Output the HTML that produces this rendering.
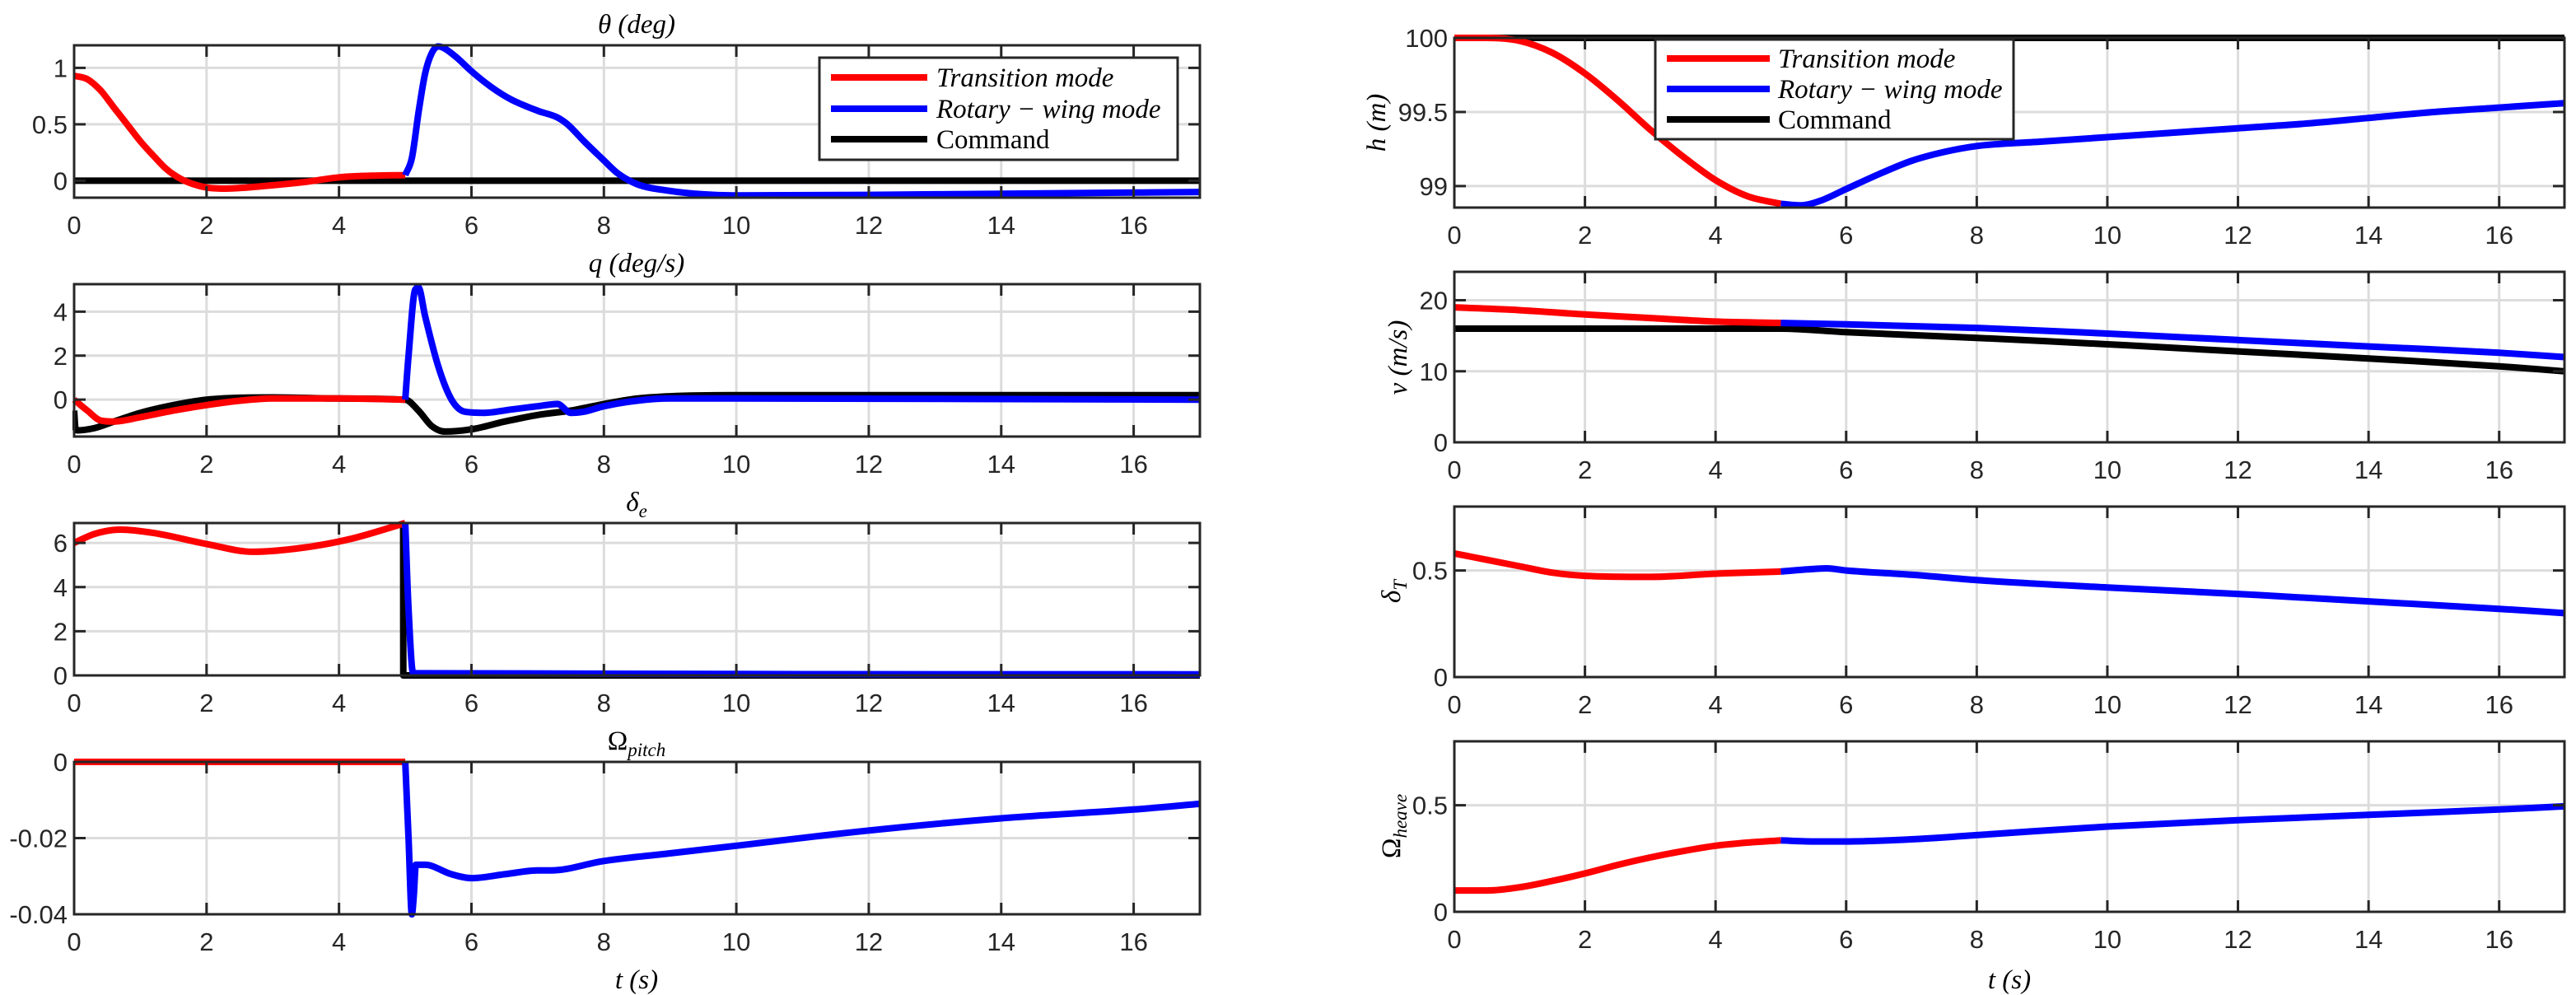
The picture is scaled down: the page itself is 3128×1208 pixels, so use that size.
<!DOCTYPE html>
<html><head><meta charset="utf-8">
<style>
html,body{margin:0;padding:0;background:#fff;}
svg{display:block;}
.tick{font-family:"Liberation Sans",sans-serif;font-size:31px;fill:#262626;}
.ser{font-family:"Liberation Serif",serif;font-size:33px;fill:#000;}
</style></head>
<body>
<svg id="fig" width="3128" height="1208" viewBox="0 0 3128 1208" xmlns="http://www.w3.org/2000/svg"></svg>
<script>
// ---- data ----
const thetaRedT=[0,0.2,0.4,0.6,0.8,1.0,1.2,1.4,1.6,1.8,2.0,2.3,2.6,3,3.5,4,4.5,5];
const thetaRedV=[0.93,0.9,0.8,0.65,0.5,0.35,0.22,0.1,0.02,-0.03,-0.06,-0.07,-0.06,-0.04,-0.01,0.03,0.045,0.05];
const thetaBlueT=[5,5.1,5.2,5.3,5.4,5.5,5.6,5.8,6.0,6.3,6.6,7.0,7.3,7.45,7.7,8.0,8.2,8.5,9,9.5,10,12,14,16,17];
const thetaBlueV=[0.05,0.2,0.6,0.95,1.13,1.19,1.17,1.08,0.97,0.83,0.72,0.62,0.56,0.5,0.35,0.18,0.07,-0.03,-0.09,-0.12,-0.13,-0.125,-0.115,-0.105,-0.1];
const thetaCmdT=[0,17];
const thetaCmdV=[0,0];

const qRedT=[0,0.2,0.4,0.6,1,1.5,2,2.5,3,4,5];
const qRedV=[0,-0.5,-0.95,-1.0,-0.8,-0.5,-0.25,-0.05,0.05,0.05,0];
const qCmdT=[0,0.02,0.05,0.3,0.6,1,1.5,2,3,4,5,5.2,5.4,5.6,6,6.5,7,7.5,8,8.5,9,10,17];
const qCmdV=[-0.5,-1.3,-1.4,-1.3,-1.0,-0.6,-0.25,0.0,0.1,0.05,0,-0.5,-1.2,-1.45,-1.35,-1.0,-0.7,-0.5,-0.2,0.05,0.15,0.2,0.2];
const qBlueT=[5,5.05,5.15,5.2,5.3,5.5,5.7,5.9,6.2,6.6,7,7.3,7.5,7.7,8,8.5,9,10,17];
const qBlueV=[0,2,5.0,5.1,3.8,1.5,0.0,-0.55,-0.6,-0.45,-0.3,-0.2,-0.6,-0.55,-0.3,-0.05,0.05,0.05,0.0];

const deRedT=[0,0.3,0.7,1.2,2,2.7,3.5,4.2,5];
const deRedV=[6.0,6.4,6.6,6.45,5.95,5.6,5.8,6.2,6.9];
const deCmdT=[4.97,4.971,17];
const deCmdV=[6.9,0,0];
const deBlueT=[5,5.05,5.12,17];
const deBlueV=[6.9,3,0.1,0.05];

const opRedT=[0,5];
const opRedV=[0,0];
const opBlueT=[5,5.05,5.1,5.13,5.16,5.3,5.7,6,6.5,7,7.2,8,9,10,12,14,16,17];
const opBlueV=[0,-0.02,-0.04,-0.035,-0.027,-0.027,-0.0295,-0.0305,-0.0295,-0.0285,-0.0285,-0.026,-0.024,-0.022,-0.018,-0.0148,-0.0125,-0.011];

const hRedT=[0,0.5,1,1.5,2,2.5,3,3.5,4,4.5,5];
const hRedV=[100,100,99.98,99.9,99.76,99.58,99.38,99.2,99.04,98.93,98.88];
const hBlueT=[5,5.3,5.6,6,6.5,7,7.5,8,9,10,11,12,13,14,15,16,17];
const hBlueV=[98.88,98.87,98.9,98.98,99.08,99.17,99.23,99.27,99.3,99.33,99.36,99.39,99.42,99.46,99.5,99.53,99.56];
const hCmdT=[0,17];
const hCmdV=[100,100];

const vRedT=[0,1,2,3,4,5];
const vRedV=[19,18.6,18,17.5,17,16.8];
const vBlueT=[5,6,8,10,12,14,16,17];
const vBlueV=[16.8,16.6,16.1,15.3,14.4,13.5,12.6,12];
const vCmdT=[0,5,6,8,10,12,14,16,17];
const vCmdV=[16,16,15.5,14.7,13.8,12.8,11.8,10.7,10];

const dtRedT=[0,0.5,1,1.5,2,3,4,5];
const dtRedV=[0.58,0.55,0.52,0.49,0.475,0.47,0.485,0.495];
const dtBlueT=[5,5.4,5.7,6,7,8,10,12,14,16,17];
const dtBlueV=[0.495,0.505,0.51,0.5,0.48,0.455,0.42,0.39,0.355,0.32,0.3];

const ohRedT=[0,0.5,1,1.5,2,2.5,3,3.5,4,4.5,5];
const ohRedV=[0.1,0.1,0.115,0.145,0.18,0.22,0.255,0.285,0.31,0.325,0.335];
const ohBlueT=[5,5.5,6,7,8,10,12,14,16,17];
const ohBlueV=[0.335,0.33,0.33,0.34,0.36,0.4,0.43,0.455,0.48,0.495];

const xTicks=[0,2,4,6,8,10,12,14,16];

// ---- drawing ----
const NS="http://www.w3.org/2000/svg";
const svg=document.getElementById('fig');
function mk(tag,attrs,parent){const e=document.createElementNS(NS,tag);for(const k in attrs)e.setAttribute(k,attrs[k]);(parent||svg).appendChild(e);return e;}
// monotone cubic path through pixel points
function monoPath(xs,ys){
  const n=xs.length;
  if(n<3){return xs.map((x,i)=>(i?'L':'M')+x.toFixed(1)+','+ys[i].toFixed(1)).join('');}
  const d=[],m=new Array(n);
  for(let i=0;i<n-1;i++){const dx=xs[i+1]-xs[i];d.push(dx===0?0:(ys[i+1]-ys[i])/dx);}
  m[0]=d[0];m[n-1]=d[n-2];
  for(let i=1;i<n-1;i++){ if(d[i-1]*d[i]<=0) m[i]=0; else m[i]=(d[i-1]+d[i])/2; }
  for(let i=0;i<n-1;i++){
    if(d[i]===0){m[i]=0;m[i+1]=0;continue;}
    const a=m[i]/d[i],b=m[i+1]/d[i],s=a*a+b*b;
    if(s>9){const t=3/Math.sqrt(s);m[i]=t*a*d[i];m[i+1]=t*b*d[i];}
  }
  let p='M'+xs[0].toFixed(1)+','+ys[0].toFixed(1);
  for(let i=0;i<n-1;i++){
    const h=(xs[i+1]-xs[i])/3;
    if(h<0.5){p+='L'+xs[i+1].toFixed(1)+','+ys[i+1].toFixed(1);continue;}
    p+='C'+(xs[i]+h).toFixed(1)+','+(ys[i]+m[i]*h).toFixed(1)+' '+(xs[i+1]-h).toFixed(1)+','+(ys[i+1]-m[i+1]*h).toFixed(1)+' '+xs[i+1].toFixed(1)+','+ys[i+1].toFixed(1);
  }
  return p;
}
let clipN=0;
function panel(opt){
  const {name,x0,x1,y0,y1,ymin,ymax,yticks,ylabels,series}=opt;
  const g=mk('g',{});
  
  
  const sx=t=>x0+(t-0)/(17-0)*(x1-x0);
  const sy=v=>y1-(v-ymin)/(ymax-ymin)*(y1-y0);
  xTicks.forEach(t=>{ if(t>0){const l=mk('line',{x1:sx(t),x2:sx(t),y1:y0,y2:y1,stroke:'#dcdcdc','stroke-width':3},g);
    }});
  yticks.forEach(v=>{const l=mk('line',{x1:x0,x2:x1,y1:sy(v),y2:sy(v),stroke:'#dcdcdc','stroke-width':3},g);
    });
  const cid='c'+(clipN++);
  const cp=mk('clipPath',{id:cid},g);
  mk('rect',{x:x0-2,y:y0-5,width:x1-x0+4,height:y1-y0+10},cp);
  series.forEach(s=>{
    const d=monoPath(s.t.map(sx),s.v.map(sy));
    const p=mk('path',{d:d,fill:'none',stroke:s.c,'stroke-width':s.w||8,'stroke-linejoin':'round','clip-path':'url(#'+cid+')'},g);
    
    
  });
  const b=mk('rect',{x:x0,y:y0,width:x1-x0,height:y1-y0,fill:'none',stroke:'#262626','stroke-width':3},g);
  
  xTicks.forEach(t=>{
    if(t>0){mk('line',{x1:sx(t),x2:sx(t),y1:y1,y2:y1-14,stroke:'#262626','stroke-width':3},g);
    mk('line',{x1:sx(t),x2:sx(t),y1:y0,y2:y0+14,stroke:'#262626','stroke-width':3},g);}
    const tx=mk('text',{x:sx(t),y:y1+44,'text-anchor':'middle',class:'tick'},g);
    tx.textContent=String(t);
    
  });
  yticks.forEach((v,i)=>{
    mk('line',{x1:x0,x2:x0+14,y1:sy(v),y2:sy(v),stroke:'#262626','stroke-width':3},g);
    mk('line',{x1:x1,x2:x1-14,y1:sy(v),y2:sy(v),stroke:'#262626','stroke-width':3},g);
    const tx=mk('text',{x:x0-8,y:sy(v)+11,'text-anchor':'end',class:'tick'},g);
    tx.textContent=ylabels[i];
    
  });
}
const LX0=90,LX1=1457,RX0=1766,RX1=3114;
const R='#ff0000',B='#0000ff',K='#000000';
panel({name:'theta',x0:LX0,x1:LX1,y0:55,y1:240,ymin:-0.15,ymax:1.2,yticks:[0,0.5,1],ylabels:['0','0.5','1'],
  series:[{t:thetaCmdT,v:thetaCmdV,c:K,n:'theta-command-line'},{t:thetaRedT,v:thetaRedV,c:R,n:'theta-transition-line'},{t:thetaBlueT,v:thetaBlueV,c:B,n:'theta-rotary-line'}]});
panel({name:'q',x0:LX0,x1:LX1,y0:345,y1:530,ymin:-1.68,ymax:5.25,yticks:[0,2,4],ylabels:['0','2','4'],
  series:[{t:qCmdT,v:qCmdV,c:K,n:'q-command-line'},{t:qRedT,v:qRedV,c:R,n:'q-transition-line'},{t:qBlueT,v:qBlueV,c:B,n:'q-rotary-line'}]});
panel({name:'delta-e',x0:LX0,x1:LX1,y0:635,y1:820,ymin:0,ymax:6.9,yticks:[0,2,4,6],ylabels:['0','2','4','6'],
  series:[{t:deCmdT,v:deCmdV,c:K,n:'delta-e-command-line'},{t:deRedT,v:deRedV,c:R,n:'delta-e-transition-line'},{t:deBlueT,v:deBlueV,c:B,n:'delta-e-rotary-line'}]});
panel({name:'omega-pitch',x0:LX0,x1:LX1,y0:925,y1:1110,ymin:-0.04,ymax:0,yticks:[-0.04,-0.02,0],ylabels:['-0.04','-0.02','0'],
  series:[{t:opRedT,v:opRedV,c:R,n:'omega-pitch-transition-line'},{t:opBlueT,v:opBlueV,c:B,n:'omega-pitch-rotary-line'}]});
panel({name:'h',x0:RX0,x1:RX1,y0:46,y1:252,ymin:98.855,ymax:100,yticks:[99,99.5,100],ylabels:['99','99.5','100'],
  series:[{t:hCmdT,v:hCmdV,c:K,n:'h-command-line'},{t:hRedT,v:hRedV,c:R,n:'h-transition-line'},{t:hBlueT,v:hBlueV,c:B,n:'h-rotary-line'}]});
panel({name:'v',x0:RX0,x1:RX1,y0:330,y1:537,ymin:0,ymax:24,yticks:[0,10,20],ylabels:['0','10','20'],
  series:[{t:vCmdT,v:vCmdV,c:K,n:'v-command-line'},{t:vRedT,v:vRedV,c:R,n:'v-transition-line'},{t:vBlueT,v:vBlueV,c:B,n:'v-rotary-line'}]});
panel({name:'delta-t',x0:RX0,x1:RX1,y0:615,y1:822,ymin:0,ymax:0.8,yticks:[0,0.5],ylabels:['0','0.5'],
  series:[{t:dtRedT,v:dtRedV,c:R,n:'delta-t-transition-line'},{t:dtBlueT,v:dtBlueV,c:B,n:'delta-t-rotary-line'}]});
panel({name:'omega-heave',x0:RX0,x1:RX1,y0:900,y1:1107,ymin:0,ymax:0.8,yticks:[0,0.5],ylabels:['0','0.5'],
  series:[{t:ohRedT,v:ohRedV,c:R,n:'omega-heave-transition-line'},{t:ohBlueT,v:ohBlueV,c:B,n:'omega-heave-rotary-line'}]});
</script>
<svg style="position:absolute;left:0;top:0" width="3128" height="1208" xmlns="http://www.w3.org/2000/svg">
 <g class="ser" font-style="italic">
  <text x="773" y="40" text-anchor="middle" class="ser" font-style="italic">θ (deg)</text>
  <text x="773" y="330" text-anchor="middle" class="ser" font-style="italic">q (deg/s)</text>
  <text x="773" y="620" text-anchor="middle" class="ser" font-style="italic">δ<tspan font-size="23" dy="8">e</tspan></text>
  <text x="773" y="910" text-anchor="middle" class="ser"><tspan font-style="normal">Ω</tspan><tspan font-size="23" dy="8">pitch</tspan></text>
  <text x="773" y="1200" text-anchor="middle" class="ser" font-style="italic">t (s)</text>
  <text x="2440" y="1200" text-anchor="middle" class="ser" font-style="italic">t (s)</text>
  <text transform="translate(1682,149) rotate(-90)" text-anchor="middle" class="ser" font-style="italic">h (m)</text>
  <text transform="translate(1708,434) rotate(-90)" text-anchor="middle" class="ser" font-style="italic">v (m/s)</text>
  <text transform="translate(1700,718) rotate(-90)" text-anchor="middle" class="ser" font-style="italic">δ<tspan font-size="23" dy="8">T</tspan></text>
  <text transform="translate(1700,1003) rotate(-90)" text-anchor="middle" class="ser"><tspan font-style="normal">Ω</tspan><tspan font-size="23" dy="8" font-style="italic">heave</tspan></text>
 </g>
 <g>
  <rect x="995" y="70" width="435" height="124" fill="#fff" stroke="#262626" stroke-width="3"/>
  <line x1="1009" x2="1126" y1="94" y2="94" stroke="#ff0000" stroke-width="8"/>
  <line x1="1009" x2="1126" y1="132" y2="132" stroke="#0000ff" stroke-width="8"/>
  <line x1="1009" x2="1126" y1="169" y2="169" stroke="#000" stroke-width="8"/>
  <text x="1137" y="105" class="ser" font-style="italic" font-size="31">Transition mode</text>
  <text x="1137" y="143" class="ser" font-style="italic" font-size="31">Rotary − wing mode</text>
  <text x="1137" y="180" class="ser" font-size="31">Command</text>
 </g>
 <g>
  <rect x="2010" y="48" width="435" height="121" fill="#fff" stroke="#262626" stroke-width="3"/>
  <line x1="2024" x2="2149" y1="71" y2="71" stroke="#ff0000" stroke-width="8"/>
  <line x1="2024" x2="2149" y1="108" y2="108" stroke="#0000ff" stroke-width="8"/>
  <line x1="2024" x2="2149" y1="145" y2="145" stroke="#000" stroke-width="8"/>
  <text x="2159" y="82" class="ser" font-style="italic" font-size="31">Transition mode</text>
  <text x="2159" y="119" class="ser" font-style="italic" font-size="31">Rotary − wing mode</text>
  <text x="2159" y="156" class="ser" font-size="31">Command</text>
 </g>
</svg>
</body></html>
